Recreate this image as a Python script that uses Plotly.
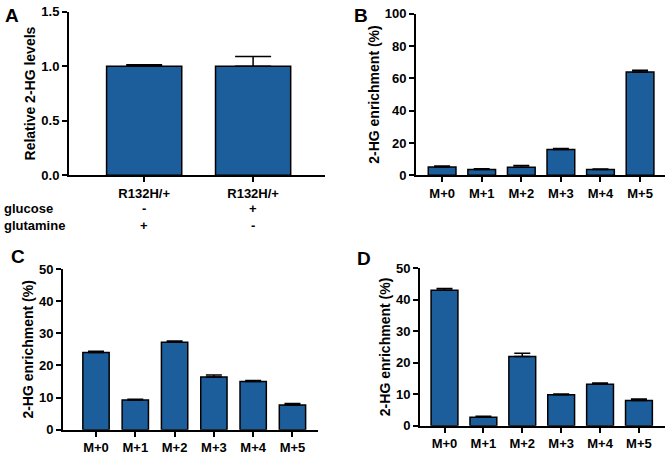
import plotly.graph_objects as go

W, H = 667, 456

# ---- data ----
a_categories = ["R132H/+ a", "R132H/+ b"]
a_tick_labels = ["R132H/+", "R132H/+"]
a_values = [1.0, 1.0]
a_errors = [0.015, 0.09]
a_glucose = ["-", "+"]
a_glutamine = ["+", "-"]

iso_categories = ["M+0", "M+1", "M+2", "M+3", "M+4", "M+5"]
b_values = [5.2, 3.6, 5.0, 16.0, 3.5, 64.0]
b_errors = [0.5, 0.5, 1.0, 0.6, 0.4, 1.0]
c_values = [24.0, 9.2, 27.2, 16.4, 15.0, 7.7]
c_errors = [0.4, 0.3, 0.4, 0.6, 0.3, 0.4]
d_values = [43.0, 2.7, 22.0, 9.8, 13.2, 8.0]
d_errors = [0.5, 0.3, 1.0, 0.3, 0.4, 0.5]

BAR = "#1B5E9B"
FONT = "Liberation Sans, Arial, sans-serif"

def px_x(p):
    return p / W

def px_y(p):
    return 1 - p / H

fig = go.Figure()

panels = [
    ("A", a_categories, a_values, a_errors, "x", "y", (69, 325), (174, 5), [-0.69, 1.66], [0, 1.5], 0.5, 18, 0.69, a_tick_labels),
    ("B", iso_categories, b_values, b_errors, "x2", "y2", (416, 665), (174, 7), [-0.66, 5.63], [0, 100], 20, 8, 0.7, iso_categories),
    ("C", iso_categories, c_values, c_errors, "x3", "y3", (63, 318), (437, 271), [-0.84, 5.65], [0, 50], 10, 8, 0.67, iso_categories),
    ("D", iso_categories, d_values, d_errors, "x4", "y4", (420, 665), (433, 270), [-0.63, 5.67], [0, 50], 10, 8, 0.69, iso_categories),
]

layout = {}
for i, (name, cats, vals, errs, xa, ya, xpx, ypx, xr, yr, dt, cap, bw, ticks) in enumerate(panels):
    fig.add_trace(go.Bar(
        x=cats, y=vals, xaxis=xa, yaxis=ya,
        marker=dict(color=BAR, line=dict(color="black", width=1.5)),
        width=bw,
        error_y=dict(type="data", array=errs, arrayminus=[0] * len(errs), symmetric=False,
                     color="black", thickness=1.5, width=cap),
        showlegend=False,
        hoverinfo="skip",
    ))
    suffix = "" if i == 0 else str(i + 1)
    fmt = ".1f" if name == "A" else "d"
    layout["xaxis" + suffix] = dict(
        domain=[px_x(xpx[0]), px_x(xpx[1])], anchor=ya, range=xr,
        type="category", tickmode="array", tickvals=cats, ticktext=ticks,
        showline=True, linecolor="black", linewidth=2,
        ticks="outside", ticklen=5, tickwidth=2, tickcolor="black",
        showgrid=False, zeroline=False,
        tickfont=dict(family=FONT, size=13, color="black", weight="bold"),
    )
    layout["yaxis" + suffix] = dict(
        domain=[px_y(ypx[0]), px_y(ypx[1])], anchor=xa, range=yr,
        dtick=dt, tick0=0, tickformat=fmt,
        showline=True, linecolor="black", linewidth=2,
        ticks="outside", ticklen=5, tickwidth=2, tickcolor="black",
        showgrid=False, zeroline=False,
        tickfont=dict(family=FONT, size=13, color="black", weight="bold"),
        title=dict(text="Relative 2-HG levels" if name == "A" else "2-HG enrichment (%)",
                   font=dict(family=FONT, size=14, color="black", weight="bold"),
                   standoff=2),
    )

annotations = []
for letter, x, y in [("A", 12, 9), ("B", 361, 9), ("C", 18, 258), ("D", 364, 260)]:
    annotations.append(dict(text=f"<b>{letter}</b>", x=px_x(x), y=px_y(y), xref="paper", yref="paper",
                            showarrow=False, xanchor="center", yanchor="middle",
                            font=dict(family=FONT, size=19, color="black")))
annotations.append(dict(text="<b>glucose</b>", x=px_x(2), y=px_y(208), xref="paper", yref="paper",
                        showarrow=False, xanchor="left", yanchor="middle",
                        font=dict(family=FONT, size=13, color="black")))
annotations.append(dict(text="<b>glutamine</b>", x=px_x(2), y=px_y(226), xref="paper", yref="paper",
                        showarrow=False, xanchor="left", yanchor="middle",
                        font=dict(family=FONT, size=13, color="black")))
for cat, g, q in zip(a_categories, a_glucose, a_glutamine):
    annotations.append(dict(text=f"<b>{g}</b>", x=cat, y=px_y(208), xref="x", yref="paper",
                            showarrow=False, xanchor="center", yanchor="middle",
                            font=dict(family=FONT, size=13, color="black")))
    annotations.append(dict(text=f"<b>{q}</b>", x=cat, y=px_y(226), xref="x", yref="paper",
                            showarrow=False, xanchor="center", yanchor="middle",
                            font=dict(family=FONT, size=13, color="black")))

fig.update_layout(
    width=W, height=H, margin=dict(l=0, r=0, t=0, b=0),
    paper_bgcolor="white", plot_bgcolor="white",
    bargap=0.3, annotations=annotations, hovermode=False,
    **layout,
)

fig.write_html("out.html", config={"displayModeBar": False},
               post_script="document.body.style.margin='0px';")
